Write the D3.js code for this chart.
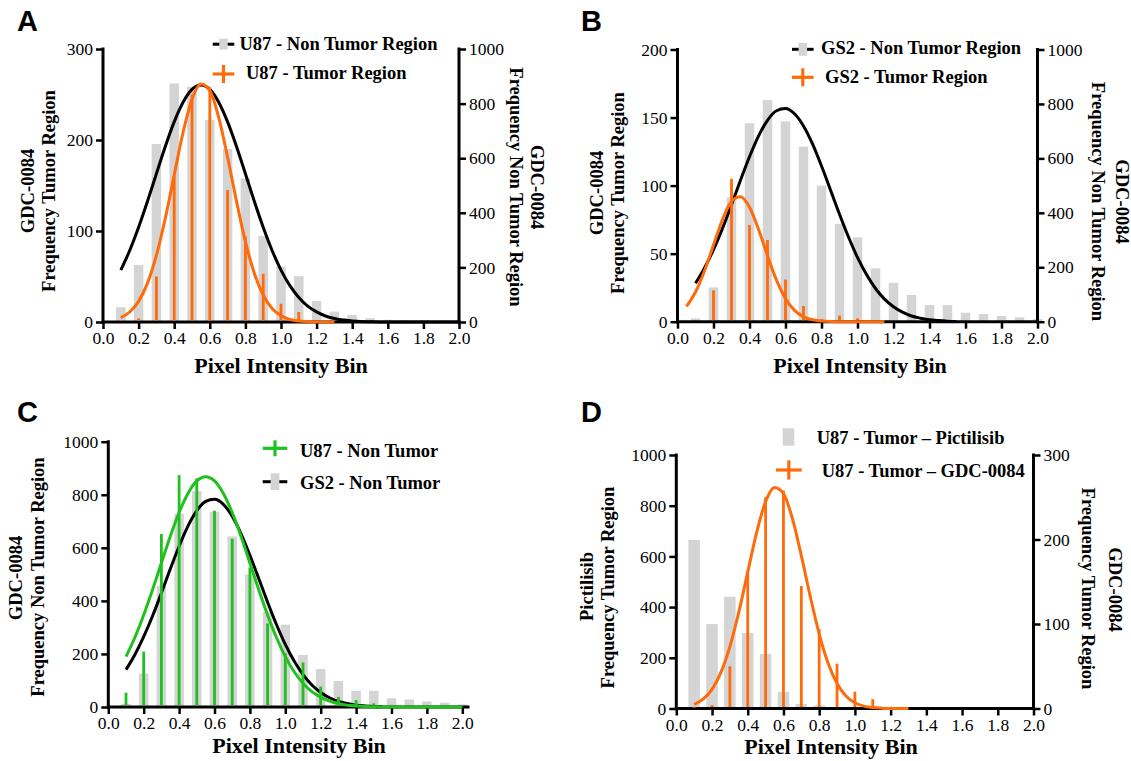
<!DOCTYPE html>
<html><head><meta charset="utf-8">
<script src="https://cdn.jsdelivr.net/npm/d3@7"></script>
<style>
body{margin:0;background:#fff}
svg text{font-family:"Liberation Serif","Times New Roman",serif;fill:#000}
</style></head><body>
<svg id="c" width="1131" height="761"></svg>
<script>
// ---------- DATA ----------
const bins = [0.1,0.2,0.3,0.4,0.5,0.6,0.7,0.8,0.9,1.0,1.1,1.2,1.3,1.4,1.5,1.6,1.7,1.8,1.9,2.0];
const u87NonTumor = [54,209,652,874,862,740,634,526,315,203,168,77,38,26,14,8,6,6,5,5];
const gs2NonTumor = [12,126,457,729,814,736,643,500,359,310,196,143,98,61,61,33,28,21,16,10];
const u87TumorGdc = [1,4,50,160,250,258,145,94,53,20,11,2,0,0,0,0,0,0,0,0];
const gs2TumorGdc = [0,23,105,71,60,31,11.5,2,4.5,2.5,0,0,0,0,0,0,0,0,0,0];
const u87TumorPictilisib = [665,333,441,298,215,66,18,12,0,0,0,0,0,0,0,0,0,0,0,0];

const u87NonTumorFitX = [0.10,0.15,0.20,0.25,0.30,0.35,0.40,0.45,0.50,0.55,0.60,0.65,0.70,0.75,0.80,0.85,0.90,0.95,1.00,1.05,1.10,1.15,1.20,1.25,1.30,1.35,1.40,1.45,1.50,1.55,1.60,1.65,1.70,1.75,1.80,1.85,1.90,1.95,2.00];
const u87NonTumorFitY = [190,262,347,442,543,643,733,805,852,868,852,805,733,643,543,442,347,262,190,133,90,58,37,22,13,7,4,2,1,0,0,0,0,0,0,0,0,0,0];
const u87TumorFitX = [0.10,0.15,0.20,0.25,0.30,0.35,0.40,0.45,0.50,0.55,0.60,0.65,0.70,0.75,0.80,0.85,0.90,0.95,1.00,1.05,1.10,1.15,1.20,1.25,1.30];
const u87TumorFitY = [4.8,11,22.7,42.7,73.2,114,161.6,208.5,244.8,261.5,254.2,224.9,181,132.6,88.4,53.6,29.6,14.9,6.8,2.8,1.1,0.4,0.1,0,0];
const gs2NonTumorFitX = [0.10,0.15,0.20,0.25,0.30,0.35,0.40,0.45,0.50,0.55,0.60,0.65,0.70,0.75,0.80,0.85,0.90,0.95,1.00,1.05,1.10,1.15,1.20,1.25,1.30,1.35,1.40,1.45,1.50,1.55];
const gs2NonTumorFitY = [141,197,265,343,430,520,606,682,740,775,783,764,719,653,572,484,395,311,236,173,122,83,55,35,21,13,7,4,2,1];
const gs2TumorFitX = [0.05,0.10,0.15,0.20,0.25,0.30,0.35,0.40,0.45,0.50,0.55,0.60,0.65,0.70,0.75,0.80,0.85,0.90,0.95,1.00,1.05,1.10,1.15];
const gs2TumorFitY = [11.2,21.8,37.3,56.4,75.1,88.4,91.8,84.1,68,48.5,30.5,17,8.3,3.6,1.4,0.5,0.1,0,0,0,0,0,0];

const xTicks = [0,0.2,0.4,0.6,0.8,1.0,1.2,1.4,1.6,1.8,2.0];

// ---------- STYLE ----------
const GRAY = "#d4d4d4", ORANGE = "#ff6a0a", GREEN = "#1fc11f", BLACK = "#000";
const svg = d3.select("#c");

function zip(xs, ys){ return xs.map((v,i)=>[v, ys[i]]); }

function panel(cfg){
  const g = svg.append("g");
  const x = d3.scaleLinear().domain([0,2]).range([cfg.x0, cfg.x1]);
  const yL = d3.scaleLinear().domain([0,cfg.leftMax]).range([cfg.yB, cfg.yT]);
  const yR = cfg.rightMax ? d3.scaleLinear().domain([0,cfg.rightMax]).range([cfg.yB, cfg.yT]) : null;
  const sc = {L:yL, R:yR};

  // bars
  cfg.bars.forEach(b=>{
    const y = sc[b.axis];
    g.append("g").selectAll("rect").data(zip(bins,b.data)).join("rect")
      .attr("x", d=>x(d[0]) - b.w/2).attr("width", b.w)
      .attr("y", d=>y(d[1])).attr("height", d=>cfg.yB - y(d[1]))
      .attr("fill", GRAY);
  });

  // axes lines
  const ax = g.append("g").attr("stroke", BLACK).attr("stroke-width", 3).attr("stroke-linecap","square");
  ax.append("line").attr("x1", cfg.x0).attr("x2", cfg.x0).attr("y1", cfg.yB).attr("y2", cfg.yT);
  ax.append("line").attr("x1", cfg.x0).attr("x2", cfg.xEnd || cfg.x1).attr("y1", cfg.yB).attr("y2", cfg.yB);
  if (yR) ax.append("line").attr("x1", cfg.x1).attr("x2", cfg.x1).attr("y1", cfg.yB).attr("y2", cfg.yT);

  function styleAxis(sel){
    sel.select(".domain").remove();
    sel.selectAll(".tick line").attr("stroke", BLACK).attr("stroke-width", 2.5);
    sel.selectAll(".tick text").attr("font-family","Liberation Serif, Times New Roman, serif").attr("font-size", 17.5).attr("fill", BLACK);
    sel.attr("font-family", null).attr("font-size", null);
  }
  g.append("g").attr("transform", `translate(${cfg.x0},0)`)
    .call(d3.axisLeft(yL).tickValues(cfg.leftTicks).tickSize(7).tickPadding(3).tickFormat(d3.format("d"))).call(styleAxis);
  g.append("g").attr("transform", `translate(0,${cfg.yB})`)
    .call(d3.axisBottom(x).tickValues(xTicks).tickSize(7).tickPadding(3).tickFormat(d3.format(".1f"))).call(styleAxis);
  if (yR) g.append("g").attr("transform", `translate(${cfg.x1},0)`)
    .call(d3.axisRight(yR).tickValues(cfg.rightTicks).tickSize(7).tickPadding(3).tickFormat(d3.format("d"))).call(styleAxis);

  const line = (y)=> d3.line().x(d=>x(d[0])).y(d=>y(d[1])).curve(d3.curveMonotoneX);

  // back curves
  (cfg.backCurves||[]).forEach(c=>{
    g.append("path").attr("d", line(sc[c.axis])(zip(c.xs,c.ys))).attr("fill","none")
      .attr("stroke", c.color).attr("stroke-width", 3);
  });
  // stems
  cfg.stems.forEach(s=>{
    const y = sc[s.axis];
    g.append("g").selectAll("line").data(zip(bins,s.data).filter(d=>d[1]>0)).join("line")
      .attr("x1", d=>x(d[0])).attr("x2", d=>x(d[0]))
      .attr("y1", cfg.yB - 1.5).attr("y2", d=>y(d[1]))
      .attr("stroke", s.color).attr("stroke-width", 2.8);
  });
  // front curves
  (cfg.frontCurves||[]).forEach(c=>{
    g.append("path").attr("d", line(sc[c.axis])(zip(c.xs,c.ys))).attr("fill","none")
      .attr("stroke", c.color).attr("stroke-width", 3);
  });

  // panel letter
  svg.append("text").attr("x", cfg.letter[1]).attr("y", cfg.letter[2]).text(cfg.letter[0])
    .attr("font-weight","bold").attr("font-size",29)
    .style("font-family","'Liberation Sans', Arial, sans-serif");

  // x title
  svg.append("text").attr("x", cfg.xTitle[0]).attr("y", cfg.xTitle[1]).attr("text-anchor","middle")
    .attr("font-weight","bold").attr("font-size",22).text("Pixel Intensity Bin");

  // rotated titles
  cfg.vTitles.forEach(t=>{
    svg.append("text").attr("transform", `translate(${t[0]},${t[1]}) rotate(${t[2]})`)
      .attr("text-anchor","middle").attr("font-weight","bold").attr("font-size",18.5).text(t[3]);
  });

  // legend
  cfg.legend.forEach(l=>{
    const lg = svg.append("g");
    if (l.sym === "grayline"){
      lg.append("line").attr("x1", l.sx0).attr("x2", l.sx1).attr("y1", l.sy).attr("y2", l.sy)
        .attr("stroke", BLACK).attr("stroke-width", 3);
      lg.append("rect").attr("x", (l.sx0+l.sx1)/2 - l.bw/2).attr("width", l.bw)
        .attr("y", l.sy - l.bh/2).attr("height", l.bh).attr("fill", GRAY);
    } else if (l.sym === "box"){
      lg.append("rect").attr("x", (l.sx0+l.sx1)/2 - l.bw/2).attr("width", l.bw)
        .attr("y", l.sy - l.bh/2).attr("height", l.bh).attr("fill", GRAY);
    } else {
      const cx = (l.sx0+l.sx1)/2;
      lg.append("line").attr("x1", l.sx0).attr("x2", l.sx1).attr("y1", l.sy).attr("y2", l.sy)
        .attr("stroke", l.color).attr("stroke-width", 3.2);
      lg.append("line").attr("x1", cx).attr("x2", cx).attr("y1", l.sy - l.vh/2).attr("y2", l.sy + l.vh/2)
        .attr("stroke", l.color).attr("stroke-width", 3.2);
    }
    lg.append("text").attr("x", l.tx).attr("y", l.ty).attr("font-weight","bold").attr("font-size",18.5).text(l.text);
  });
}

// Panel A
panel({
  x0:103, x1:459, yB:322, yT:49, leftMax:300, leftTicks:[0,100,200,300],
  rightMax:1000, rightTicks:[0,200,400,600,800,1000],
  bars:[{data:u87NonTumor, axis:"R", w:9.5}],
  backCurves:[{xs:u87NonTumorFitX, ys:u87NonTumorFitY, axis:"R", color:BLACK}],
  stems:[{data:u87TumorGdc, axis:"L", color:ORANGE}],
  frontCurves:[{xs:u87TumorFitX, ys:u87TumorFitY, axis:"L", color:ORANGE}],
  letter:["A",17,31], xTitle:[281,373],
  vTitles:[[33.5,191,-90,"GDC-0084"],[54.5,191,-90,"Frequency Tumor Region"],
           [531,187,90,"GDC-0084"],[510,187,90,"Frequency Non Tumor Region"]],
  legend:[
    {sym:"grayline", sx0:212.7, sx1:234.3, sy:44.2, bw:8.5, bh:11, tx:239.5, ty:50, text:"U87 - Non Tumor Region"},
    {sym:"plus", color:ORANGE, sx0:212.7, sx1:234.3, sy:74, vh:18, tx:246, ty:79.3, text:"U87 - Tumor Region"}
  ]
});

// Panel B
panel({
  x0:677.5, x1:1037.5, yB:321.7, yT:49.5, leftMax:200, leftTicks:[0,50,100,150,200],
  rightMax:1000, rightTicks:[0,200,400,600,800,1000],
  bars:[{data:gs2NonTumor, axis:"R", w:9.5}],
  backCurves:[{xs:gs2NonTumorFitX, ys:gs2NonTumorFitY, axis:"R", color:BLACK}],
  stems:[{data:gs2TumorGdc, axis:"L", color:ORANGE}],
  frontCurves:[{xs:gs2TumorFitX, ys:gs2TumorFitY, axis:"L", color:ORANGE}],
  letter:["B",581,31], xTitle:[860,373],
  vTitles:[[603.4,193,-90,"GDC-0084"],[623.7,193,-90,"Frequency Tumor Region"],
           [1115.7,201.5,90,"GDC-0084"],[1092.2,201.5,90,"Frequency Non Tumor Region"]],
  legend:[
    {sym:"grayline", sx0:792, sx1:813.6, sy:49.3, bw:8.5, bh:13, tx:821, ty:54, text:"GS2 - Non Tumor Region"},
    {sym:"plus", color:ORANGE, sx0:792, sx1:813.6, sy:77.3, vh:18, tx:825, ty:83.3, text:"GS2 - Tumor Region"}
  ]
});

// Panel C
panel({
  x0:108.3, x1:462.3, xEnd:468, yB:707, yT:441.7, leftMax:1000, leftTicks:[0,200,400,600,800,1000],
  rightMax:null,
  bars:[{data:gs2NonTumor, axis:"L", w:9.5}],
  backCurves:[{xs:gs2NonTumorFitX, ys:gs2NonTumorFitY, axis:"L", color:BLACK}],
  stems:[{data:u87NonTumor, axis:"L", color:GREEN}],
  frontCurves:[{xs:u87NonTumorFitX, ys:u87NonTumorFitY, axis:"L", color:GREEN}],
  letter:["C",17,421.7], xTitle:[299,752.5],
  vTitles:[[22.3,578,-90,"GDC-0084"],[43.6,577,-90,"Frequency Non Tumor Region"]],
  legend:[
    {sym:"plus", color:GREEN, sx0:262.7, sx1:287.3, sy:448.3, vh:16, tx:300, ty:456.7, text:"U87 - Non Tumor"},
    {sym:"grayline", sx0:262.7, sx1:287.3, sy:481.7, bw:8.7, bh:16.7, tx:300, ty:489, text:"GS2 - Non Tumor"}
  ]
});

// Panel D
panel({
  x0:676.3, x1:1033.5, yB:708.5, yT:455, leftMax:1000, leftTicks:[0,200,400,600,800,1000],
  rightMax:300, rightTicks:[0,100,200,300],
  bars:[{data:u87TumorPictilisib, axis:"L", w:11.5}],
  backCurves:[],
  stems:[{data:u87TumorGdc, axis:"R", color:ORANGE}],
  frontCurves:[{xs:u87TumorFitX, ys:u87TumorFitY, axis:"R", color:ORANGE}],
  letter:["D",581,421.7], xTitle:[831,754],
  vTitles:[[593.3,586.5,-90,"Pictilisib"],[614.2,587.5,-90,"Frequency Tumor Region"],
           [1108.5,589.5,90,"GDC-0084"],[1082.3,588.5,90,"Frequency Tumor Region"]],
  legend:[
    {sym:"box", sx0:782.7, sx1:794.3, sy:437, bw:11.6, bh:17.4, tx:816.7, ty:444.3, text:"U87 - Tumor \u2013 Pictilisib"},
    {sym:"plus", color:ORANGE, sx0:776, sx1:801.7, sy:470, vh:19.3, tx:821.7, ty:476.7, text:"U87 - Tumor \u2013 GDC-0084"}
  ]
});
</script></body></html>
